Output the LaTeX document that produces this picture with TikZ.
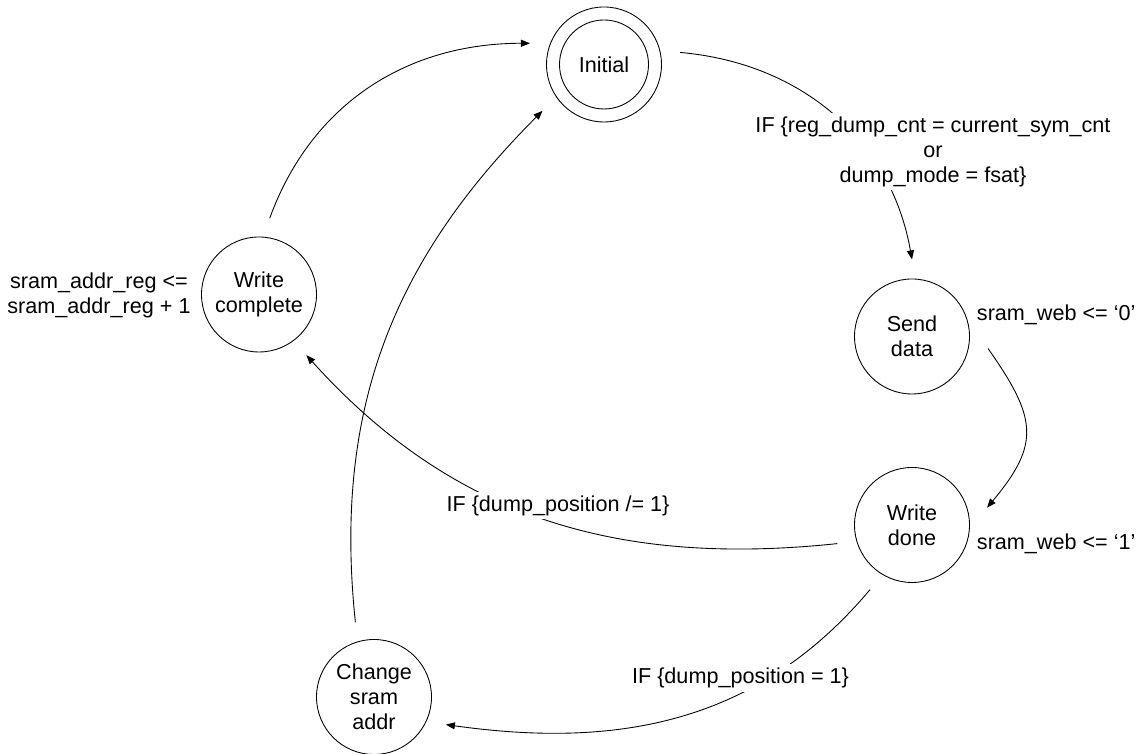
\documentclass[tikz,border=0pt]{standalone}
\usepackage{fontspec}
\setmainfont{Liberation Sans}
\usetikzlibrary{arrows.meta}

\begin{document}
\begin{tikzpicture}[line width=0.5pt,
  every node/.style={font={\fontsize{12.3}{14.2}\selectfont}},
  fsm/.style={circle,draw,minimum size=2.3cm,inner sep=0pt,outer sep=0.39cm,align=center},
  cond/.style={fill=white,align=center,inner sep=2pt},
  tr/.style={-{Triangle[length=1.8mm,width=1.4mm]}}]
\useasboundingbox (0,0) rectangle (22.8,15.08);

% States
\node[fsm] (init) at (12.08,13.79) {Initial};
\draw (init.center) circle (0.89);
\node[fsm] (wcomp) at (5.18,9.19) {Write\\complete};
\node[fsm] (send) at (18.24,8.35) {Send\\data};
\node[fsm] (wdone) at (18.24,4.58) {Write\\done};
\node[fsm] (chg) at (7.48,1.14) {Change\\sram\\addr};

% Transitions
\draw[tr] (init.9) to[out=-5,in=100] (send.90);
\draw[tr] (send.-9) to[out=-55,in=50,looseness=1.35] (wdone.13);
\draw[tr] (wdone.194) to[out=186,in=-48] (wcomp.-52);
\draw[tr] (wdone.-123) to[out=230,in=-8] (chg.-21);
\draw[tr] (chg.104) to[out=96,in=225] (init.217);
\draw[tr] (wcomp.82) to[out=70,in=180] (init.164);

% Conditions, drawn over the arcs
\node[cond] (c1) at (18.66,12.05) {IF \{reg\_dump\_cnt = current\_sym\_cnt\\or\\dump\_mode = fsat\}};
\node[cond] (c2) at (11.16,4.97) {IF \{dump\_position /= 1\}};
\node[cond] (c3) at (14.81,1.52) {IF \{dump\_position = 1\}};

% Outputs of the states
\node[align=center] (o1) at (1.98,9.18) {sram\_addr\_reg <=\\sram\_addr\_reg + 1};
\node[anchor=west,inner sep=0pt] (o2) at (19.53,8.78) {sram\_web <= ‘0’};
\node[anchor=west,inner sep=0pt] (o3) at (19.53,4.21) {sram\_web <= ‘1’};
\end{tikzpicture}
\end{document}
